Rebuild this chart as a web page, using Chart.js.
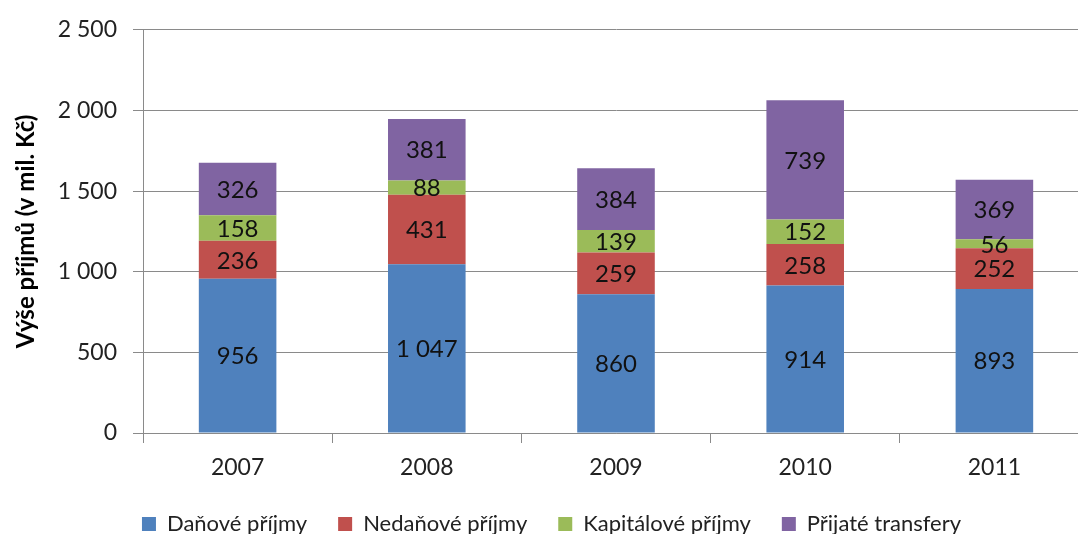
<!DOCTYPE html>
<html>
<head>
<meta charset="utf-8">
<script src="https://cdn.jsdelivr.net/npm/chart.js@4/dist/chart.umd.min.js"></script>
<style>
  html, body { margin: 0; padding: 0; background: #fff; overflow: hidden; }
  canvas { display: block; }
</style>
</head>
<body>
<canvas id="chart" width="1092" height="545"></canvas>
<script>
const years = ['2007', '2008', '2009', '2010', '2011'];
const danove = [956, 1047, 860, 914, 893];
const nedanove = [236, 431, 259, 258, 252];
const kapitalove = [158, 88, 139, 152, 56];
const transfery = [326, 381, 384, 739, 369];
const yTicks = [0, 500, 1000, 1500, 2000, 2500];

const FONT = 'Lato, "Open Sans", sans-serif';

// space as thousands separator, like the original (1 047, 2 500)
function fmt(v) {
  return String(v).replace(/\B(?=(\d{3})+(?!\d))/g, ' ');
}

// values written in the middle of each segment
const segmentLabels = {
  id: 'segmentLabels',
  afterDatasetsDraw(chart) {
    const ctx = chart.ctx;
    ctx.save();
    ctx.font = '24px ' + FONT;
    ctx.fillStyle = '#111';
    ctx.textAlign = 'center';
    ctx.textBaseline = 'middle';
    chart.data.datasets.forEach((ds, i) => {
      chart.getDatasetMeta(i).data.forEach((bar, j) => {
        const y = (bar.y + bar.base) / 2;
        ctx.fillText(fmt(ds.data[j]), bar.x, y + 1);
      });
    });
    ctx.restore();
  }
};

new Chart(document.getElementById('chart'), {
  type: 'bar',
  data: {
    labels: years,
    datasets: [
      { label: 'Daňové příjmy', data: danove, backgroundColor: '#4F81BD' },
      { label: 'Nedaňové příjmy', data: nedanove, backgroundColor: '#C0504D' },
      { label: 'Kapitálové příjmy', data: kapitalove, backgroundColor: '#9BBB59' },
      { label: 'Přijaté transfery', data: transfery, backgroundColor: '#8064A2' }
    ]
  },
  options: {
    responsive: false,
    animation: false,
    layout: { padding: { top: 25, right: 3, left: 14, bottom: 0 } },
    datasets: {
      bar: { barPercentage: 1, categoryPercentage: 0.41, borderWidth: 0 }
    },
    scales: {
      x: {
        stacked: true,
        grid: {
          drawOnChartArea: false,
          drawTicks: true,
          tickLength: 10,
          color: '#8a8a8a',
          offset: true
        },
        border: { color: '#8a8a8a' },
        ticks: {
          color: '#222',
          padding: 11,
          font: { family: FONT, size: 23 }
        },
        afterFit(scale) { scale.height = 49; }
      },
      y: {
        stacked: true,
        min: 0,
        max: 2500,
        afterBuildTicks(scale) {
          scale.ticks = yTicks.map(v => ({ value: v }));
        },
        grid: { color: '#8a8a8a', tickLength: 10 },
        border: { color: '#8a8a8a' },
        ticks: {
          color: '#222',
          padding: 16,
          font: { family: FONT, size: 23 },
          callback: v => fmt(v)
        },
        title: {
          display: true,
          text: 'Výše příjmů (v mil. Kč)',
          color: '#000',
          padding: { top: 0, bottom: 0 },
          font: { family: FONT, size: 24, weight: 'bold', lineHeight: 1 }
        },
        afterFit(scale) { scale.width = 129; }
      }
    },
    plugins: {
      tooltip: { enabled: false },
      legend: {
        position: 'bottom',
        labels: {
          color: '#222',
          boxWidth: 14,
          boxHeight: 14,
          padding: 31,
          font: { family: FONT, size: 22 }
        }
      }
    }
  },
  plugins: [segmentLabels]
});
</script>
</body>
</html>
